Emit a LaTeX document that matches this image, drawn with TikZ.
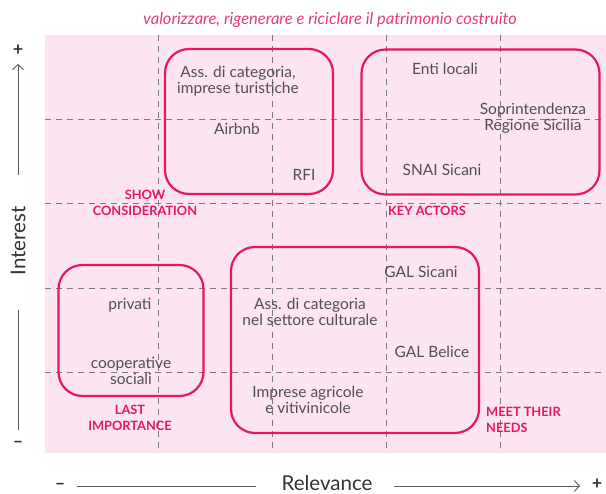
\documentclass[tikz,border=0pt]{standalone}
\usepackage{fontspec}
\setmainfont{Lato}
\usetikzlibrary{arrows.meta}
\definecolor{bgpink}{HTML}{FCE4F0}
\definecolor{crim}{HTML}{E8185E}
\definecolor{txt}{HTML}{505050}
\definecolor{dashc}{HTML}{7A7A7A}
\definecolor{axc}{HTML}{333333}
\begin{document}
\begin{tikzpicture}[x=1pt,y=-1pt,
  grp/.style={draw=crim,line width=2.2pt,rounded corners=24pt,inner sep=0pt},
  grid/.style={draw=dashc,line width=0.9pt,dash pattern=on 6pt off 5pt},
  lbl/.style={text=txt,font=\fontsize{15.5}{15.5}\selectfont,align=center,inner sep=0pt},
  quad/.style={text=crim,font=\fontsize{12.8}{16}\selectfont\bfseries,align=center,inner sep=0pt},
  axlbl/.style={text=axc,font=\fontsize{20.5}{22}\selectfont,inner sep=0pt},
  sgn/.style={text=axc,font=\fontsize{18}{20}\selectfont\bfseries,inner sep=0pt},
  axis/.style={draw=axc!80,line width=0.9pt}]
\useasboundingbox (0,0) rectangle (606,494);
\fill[bgpink] (45,35) rectangle (606,453);
% grid
\foreach \x in {158,272,386,500} \draw[grid] (\x,35) -- (\x,453);
\foreach \y in {119,203,288,372} \draw[grid] (45,\y) -- (606,\y);
% title
\node[text=crim!85,font=\fontsize{16.5}{18}\selectfont\itshape,inner sep=0pt] (title) at (330,20) {valorizzare, rigenerare e riciclare il patrimonio costruito};
% boxes
\node[grp,minimum width=168pt,minimum height=145pt] (b1) at (249,121.5) {};
\node[grp,minimum width=238pt,minimum height=145pt] (b2) at (480.5,122) {};
\node[grp,minimum width=145pt,minimum height=131pt] (b3) at (131,330.5) {};
\node[grp,minimum width=248pt,minimum height=186pt] (b4) at (355,340) {};
% labels
\node[lbl] (l1) at (238,81) {Ass. di categoria,\\imprese turistiche};
\node[lbl] (l2) at (237,129) {Airbnb};
\node[lbl] (l3) at (304,175) {RFI};
\node[lbl] (l4) at (445,69) {Enti locali};
\node[lbl] (l5) at (533,118) {Soprintendenza\\Regione Sicilia};
\node[lbl] (l6) at (442,170) {SNAI Sicani};
\node[lbl] (l7) at (421,272) {GAL Sicani};
\node[lbl] (l8) at (310,312) {Ass. di categoria\\nel settore culturale};
\node[lbl] (l9) at (432,352) {GAL Belice};
\node[lbl] (l10) at (308,400) {Imprese agricole\\e vitivinicole};
\node[lbl] (l11) at (130,305) {privati};
\node[lbl] (l12) at (131,371) {cooperative\\sociali};
% quadrant labels
\node[quad] (q1) at (145,203) {SHOW\\CONSIDERATION};
\node[quad] (q2) at (427,211) {KEY ACTORS};
\node[quad] (q3) at (130,418) {LAST\\IMPORTANCE};
\node[quad,align=left,anchor=west] (q4) at (486,420) {MEET THEIR\\NEEDS};
% vertical axis
\node[sgn] (yplus) at (18,50) {+};
\node[axlbl,rotate=90] (interest) at (18,241) {Interest};
\node[sgn] (yminus) at (18,444) {–};
\coordinate (ya) at (18,175);
\coordinate (yb) at (18,64);
\coordinate (yc) at (18,310);
\coordinate (yd) at (18,430);
\draw[axis,-{Straight Barb[length=5pt,width=11pt]}] (ya) -- (yb);
\draw[axis] (yc) -- (yd);
% horizontal axis
\node[sgn] (xminus) at (60,486) {–};
\node[axlbl] (relev) at (327,483) {Relevance};
\node[sgn] (xplus) at (597,484) {+};
\coordinate (xa) at (77,486);
\coordinate (xb) at (256,486);
\coordinate (xc) at (394,486);
\coordinate (xd) at (580,486);
\draw[axis] (xa) -- (xb);
\draw[axis,-{Straight Barb[length=5pt,width=11pt]}] (xc) -- (xd);
\end{tikzpicture}
\end{document}
